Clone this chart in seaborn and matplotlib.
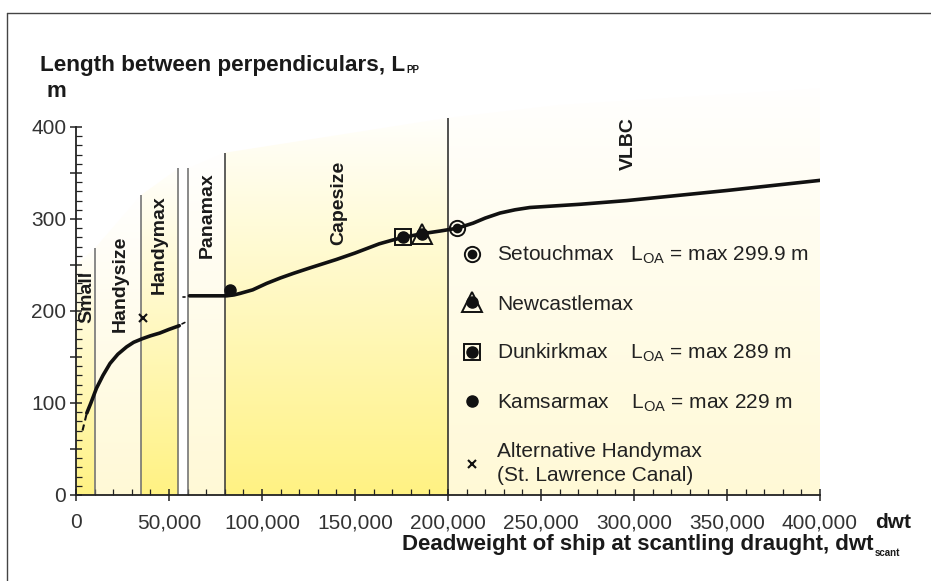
import numpy as np
import matplotlib
matplotlib.use("Agg")
import matplotlib.pyplot as plt
import seaborn as sns
from matplotlib.colors import LinearSegmentedColormap
from matplotlib.patches import Polygon
from matplotlib.lines import Line2D
from matplotlib.ticker import MultipleLocator, FuncFormatter

# ---- data ----
# curve for small / handysize / handymax ships
handy_dwt = [5800, 8000, 11000, 14500, 18300, 22500, 27200, 31000, 35800, 40000, 45000, 50000, 55500]
handy_lpp = [89, 100, 116, 130, 143, 153, 161, 166, 170, 173, 176, 180, 184]
handy_start_dwt = [3500, 5800]
handy_start_lpp = [70, 89]
handy_end_dwt = [57000, 58500]
handy_end_lpp = [186, 187.5]

# curve from panamax upwards
big_dwt = [61000, 70000, 81000, 85000, 88000, 95000, 102500, 110000, 117000, 126000, 140000,
           150000, 163000, 170000, 176000, 186000, 196000, 205000, 213500, 220000, 228000,
           236000, 244000, 271000, 296000, 350000, 400000]
big_lpp = [216.5, 216.5, 216.5, 217.5, 219, 223, 230, 236, 241, 247, 256,
           263, 273, 277, 280, 284, 287, 290, 295.5, 301, 306.5,
           310, 312.5, 316, 320, 331, 342]
big_start_dwt = [57500, 58700]
big_start_lpp = [215.5, 215.5]

# named ship types on the curve
setouch = (205000, 290)
newcastle = (186000, 284)
dunkirk = (176000, 280)
kamsar = (83000, 223)
alt_handymax = (36000, 192)

# class boundaries and the height of their separator lines
boundary_dwt = [10000, 35000, 55000, 60000, 80000, 200000]
boundary_top = [268, 326, 355, 355, 372, 410]
boundary_color = ["#6a6a6a", "#6a6a6a", "#6a6a6a", "#6a6a6a", "#333333", "#222222"]

# shaded bands
band_limits = [(0, 10000), (10000, 35000), (35000, 55000), (60000, 80000), (80000, 200000), (200000, 400000)]
band_base = ["#fff283", "#fff9d6", "#fff283", "#fff9d6", "#fff283", "#fff9d6"]
shade_top_dwt = [0, 10000, 35000, 55000, 60000, 80000, 200000, 260000, 400000]
shade_top_lpp = [250, 268, 326, 355, 355, 372, 410, 424, 442]

class_names = ["Small", "Handysize", "Handymax", "Panamax", "Capesize", "VLBC"]
class_x = [6000, 23600, 45000, 70400, 141000, 297000]
class_y = [215, 230, 272, 304, 317, 382]

legend_labels = [
    "Setouchmax   $\\mathrm{L_{OA}}$ = max 299.9 m",
    "Newcastlemax",
    "Dunkirkmax    $\\mathrm{L_{OA}}$ = max 289 m",
    "Kamsarmax    $\\mathrm{L_{OA}}$ = max 229 m",
    "Alternative Handymax\n(St. Lawrence Canal)",
]

# ---- style ----
sns.set_theme(style="ticks")
plt.rcParams["font.family"] = ["Liberation Sans", "DejaVu Sans"]
plt.rcParams["mathtext.fontset"] = "custom"
plt.rcParams["mathtext.rm"] = "Liberation Sans"
plt.rcParams["mathtext.it"] = "Liberation Sans:italic"
plt.rcParams["mathtext.bf"] = "Liberation Sans:bold"

W, H = 931, 581
fig = plt.figure(figsize=(W / 100, H / 100), dpi=100)
fig.patch.set_facecolor("white")
ax = fig.add_axes([76 / W, 86 / H, 744 / W, 460 * 0.92 / H])
ax.set_facecolor("white")

# gradient shading of the bands, fading to white at the top of each band
grad = np.linspace(0, 1, 256).reshape(-1, 1)
for (x0, x1), base in zip(band_limits, band_base):
    cmap = LinearSegmentedColormap.from_list("band", [base, "white"])
    xs = [x0] + [x for x in shade_top_dwt if x0 < x < x1] + [x1]
    ys = np.interp(xs, shade_top_dwt, shade_top_lpp)
    verts = [(x0, 0)] + list(zip(xs, ys)) + [(x1, 0)]
    poly = Polygon(verts, closed=True, facecolor="none", edgecolor="none")
    ax.add_patch(poly)
    im = ax.imshow(grad, cmap=cmap, origin="lower", extent=[x0, x1, 0, max(ys) * 1.03],
                   aspect="auto", zorder=0, interpolation="bilinear")
    im.set_clip_path(poly)

# separator lines
ax.vlines(boundary_dwt, 0, boundary_top, colors=boundary_color, lw=1.1, zorder=2)

# curves
sns.lineplot(x=handy_dwt, y=handy_lpp, ax=ax, color="#111111", lw=2.6, sort=False, estimator=None, zorder=3)
sns.lineplot(x=big_dwt, y=big_lpp, ax=ax, color="#111111", lw=2.6, sort=False, estimator=None, zorder=3)
ax.plot(handy_start_dwt, handy_start_lpp, color="#111111", lw=1.5, ls=(0, (3, 2)), zorder=3)
ax.plot(handy_end_dwt, handy_end_lpp, color="#111111", lw=1.2, zorder=3)
ax.plot(big_start_dwt, big_start_lpp, color="#111111", lw=1.2, zorder=3)

# ship type markers
k = "#111111"
ax.plot(*setouch, marker="o", ms=11, mfc="none", mec=k, mew=1.4, zorder=4)
ax.plot(*setouch, marker="o", ms=6, color=k, zorder=5)
ax.plot(*newcastle, marker="^", ms=15, mfc="none", mec=k, mew=1.4, zorder=4)
ax.plot(*newcastle, marker="o", ms=8, color=k, zorder=5)
ax.plot(*dunkirk, marker="s", ms=12, mfc="none", mec=k, mew=1.4, zorder=4)
ax.plot(*dunkirk, marker="o", ms=8, color=k, zorder=5)
ax.plot(*kamsar, marker="o", ms=8, color=k, zorder=5)
ax.plot(*alt_handymax, marker="x", ms=6, mew=1.5, color=k, zorder=5)

# class labels
for name, x, y in zip(class_names, class_x, class_y):
    ax.text(x, y, name, rotation=90, ha="center", va="center", fontsize=14,
            fontweight="bold", color="#1a1a1a", zorder=6)

# legend
h_setouch = (Line2D([], [], ls="none", marker="o", ms=11, mfc="none", mec=k, mew=1.4),
             Line2D([], [], ls="none", marker="o", ms=6, color=k))
h_newcastle = (Line2D([], [], ls="none", marker="^", ms=15, mfc="none", mec=k, mew=1.4),
               Line2D([], [], ls="none", marker="o", ms=8, color=k))
h_dunkirk = (Line2D([], [], ls="none", marker="s", ms=11, mfc="none", mec=k, mew=1.4),
             Line2D([], [], ls="none", marker="o", ms=8, color=k))
h_kamsar = Line2D([], [], ls="none", marker="o", ms=8, color=k)
h_alt = Line2D([], [], ls="none", marker="x", ms=6, mew=1.5, color=k)
leg = ax.legend([h_setouch, h_newcastle, h_dunkirk, h_kamsar, h_alt], legend_labels,
                loc="upper left", bbox_to_anchor=(0.516, 0.593), frameon=False,
                borderpad=0, borderaxespad=0, handlelength=1.2, handletextpad=0.6,
                labelspacing=1.36, fontsize=15)
for t in leg.get_texts():
    t.set_color("#222222")
    t.set_linespacing(1.3)

# axes
ax.set_xlim(0, 400000)
ax.set_ylim(0, 460)
sns.despine(ax=ax)
ax.spines["left"].set_bounds(0, 400)
ax.spines["bottom"].set_bounds(0, 400000)
for s in ("left", "bottom"):
    ax.spines[s].set_color("#222222")
    ax.spines[s].set_linewidth(1.3)

ax.xaxis.set_major_locator(MultipleLocator(50000))
ax.xaxis.set_minor_locator(MultipleLocator(10000))
ax.xaxis.set_major_formatter(FuncFormatter(lambda v, p: f"{int(v):,}"))
ax.set_yticks(np.arange(0, 401, 50))
ax.set_yticks(np.arange(0, 401, 10), minor=True)
ax.yaxis.set_major_formatter(FuncFormatter(lambda v, p: f"{int(v)}" if v % 100 == 0 else ""))
ax.tick_params(axis="both", which="major", direction="inout", length=8, width=1.1,
               colors="#222222", labelsize=15, labelcolor="#333333")
ax.tick_params(axis="both", which="minor", direction="in", length=4, width=0.9, colors="#222222")
ax.tick_params(axis="x", which="major", pad=9)
ax.tick_params(axis="y", which="major", pad=3)

ax.annotate("dwt", xy=(1, 0), xycoords="axes fraction", xytext=(55, -27),
            textcoords="offset pixels", ha="left", va="center", fontsize=15,
            fontweight="bold", color="#1a1a1a")

# axis titles
ylab = fig.text(40 / W, 1 - 71 / H, "Length between perpendiculars, L", ha="left",
                va="baseline", fontsize=16.2, fontweight="bold", color="#1a1a1a")
ax.annotate("PP", xy=(1, 0), xycoords=ylab, xytext=(1, 1), textcoords="offset points",
            ha="left", va="bottom", fontsize=7, fontweight="bold", color="#1a1a1a",
            annotation_clip=False)
fig.text(47 / W, 1 - 97 / H, "m", ha="left", va="baseline", fontsize=16,
         fontweight="bold", color="#1a1a1a")

xlab = fig.text(873 / W, 1 - 550 / H, "Deadweight of ship at scantling draught, dwt",
                ha="right", va="baseline", fontsize=16, fontweight="bold", color="#1a1a1a")
ax.annotate("scant", xy=(1, 0), xycoords=xlab, xytext=(1, -2), textcoords="offset points",
            ha="left", va="bottom", fontsize=7, fontweight="bold", color="#1a1a1a",
            annotation_clip=False)

# partial frame around the figure
fig.add_artist(Line2D([7 / W, 7 / W], [0, 1 - 13 / H], transform=fig.transFigure, color="#444444", lw=1))
fig.add_artist(Line2D([7 / W, 1], [1 - 13 / H, 1 - 13 / H], transform=fig.transFigure, color="#444444", lw=1))

fig.savefig("out.png", dpi=100)
